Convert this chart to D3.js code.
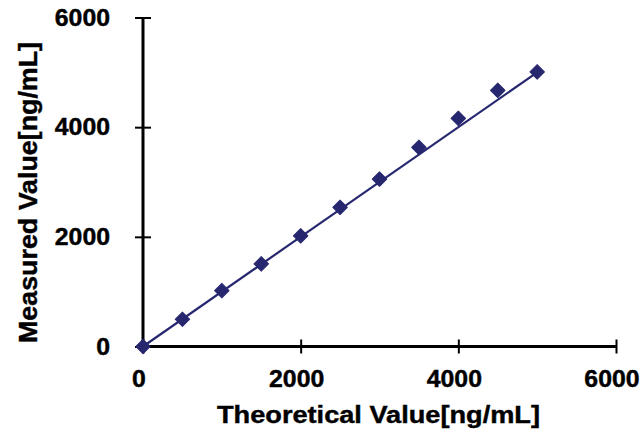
<!DOCTYPE html>
<html>
<head>
<meta charset="utf-8">
<script src="https://cdn.jsdelivr.net/npm/d3@7"></script>
<style>
html,body{margin:0;padding:0;background:#fff;}
svg{display:block;}
text{font-family:"Liberation Sans",Arial,sans-serif;font-weight:bold;fill:#000;}
</style>
</head>
<body>
<svg id="chart" width="644" height="433"></svg>
<script>
const theoretical = [0, 500, 1000, 1500, 2000, 2500, 3000, 3500, 4000, 4500, 5000];
const measured    = [0, 497, 1019, 1507, 2018, 2539, 3054, 3631, 4161, 4672, 5008];
const fitX = [0, 5000];
const fitY = [0, 5000];
const xTicks = [0, 2000, 4000, 6000];
const yTicks = [0, 2000, 4000, 6000];
const xTitle = "Theoretical Value[ng/mL]";
const yTitle = "Measured Value[ng/mL]";

const svg = d3.select("#chart");
const x = d3.scaleLinear().domain([0, 6000]).range([143, 616]);
const y = d3.scaleLinear().domain([0, 6000]).range([346.5, 17.5]);
const color = "#27276F";

// fit line
const line = d3.line().x(d => x(d[0])).y(d => y(d[1]));
svg.append("path")
  .datum(fitX.map((v, i) => [v, fitY[i]]))
  .attr("d", line)
  .attr("fill", "none")
  .attr("stroke", color)
  .attr("stroke-width", 2.2);

// axes
const xAxis = d3.axisBottom(x).tickValues(xTicks).tickSize(7).tickFormat(d3.format("d"));
const gx = svg.append("g").attr("transform", `translate(0,${y(0)})`).call(xAxis);
gx.select(".domain").remove();
gx.selectAll(".tick line").attr("y1", -7).attr("y2", 7).attr("stroke", "#000").attr("stroke-width", 2);
gx.selectAll(".tick text").remove();
svg.append("line").attr("x1", x(0)).attr("x2", x(6000)).attr("y1", y(0)).attr("y2", y(0))
  .attr("stroke", "#000").attr("stroke-width", 3);

const yAxis = d3.axisLeft(y).tickValues(yTicks).tickSize(8).tickFormat(d3.format("d"));
const gy = svg.append("g").attr("transform", `translate(${x(0)},0)`).call(yAxis);
gy.select(".domain").remove();
gy.selectAll(".tick line").attr("x1", -8).attr("x2", 8).attr("stroke", "#000").attr("stroke-width", 2);
gy.selectAll(".tick text").remove();
svg.append("line").attr("x1", x(0)).attr("x2", x(0)).attr("y1", y(0) + 1.5).attr("y2", y(6000))
  .attr("stroke", "#000").attr("stroke-width", 3);

// tick labels
svg.selectAll(".xlab").data(xTicks).enter().append("text")
  .attr("class", "xlab")
  .attr("x", d => x(d) - 4)
  .attr("y", 387)
  .attr("text-anchor", "middle")
  .attr("font-size", 23)
  .attr("stroke", "#000").attr("stroke-width", 0.4)
  .attr("transform", d => `translate(${x(d) - 4},0) scale(1.08,1) translate(${-(x(d) - 4)},0)`)
  .text(d => d);

svg.selectAll(".ylab").data(yTicks).enter().append("text")
  .attr("class", "ylab")
  .attr("x", 110)
  .attr("y", d => y(d) + 8.3)
  .attr("text-anchor", "end")
  .attr("font-size", 23)
  .attr("stroke", "#000").attr("stroke-width", 0.4)
  .attr("transform", `translate(110,0) scale(1.08,1) translate(-110,0)`)
  .text(d => d);

// markers
svg.selectAll(".pt").data(theoretical).enter().append("path")
  .attr("class", "pt")
  .attr("d", d3.symbol().type(d3.symbolSquare).size(105))
  .attr("transform", (d, i) => `translate(${x(d)},${y(measured[i])}) rotate(45)`)
  .attr("fill", color)
  .attr("stroke", color)
  .attr("stroke-width", 1)
  .attr("stroke-linejoin", "round");

// titles
svg.append("text")
  .attr("x", 217)
  .attr("y", 423)
  .attr("font-size", 23)
  .attr("stroke", "#000").attr("stroke-width", 0.4)
  .attr("textLength", 323)
  .attr("lengthAdjust", "spacingAndGlyphs")
  .text(xTitle);

svg.append("text")
  .attr("transform", "translate(37,343) rotate(-90)")
  .attr("x", 0)
  .attr("y", 0)
  .attr("font-size", 26)
  .attr("stroke", "#000").attr("stroke-width", 0.4)
  .attr("textLength", 301)
  .attr("lengthAdjust", "spacingAndGlyphs")
  .text(yTitle);
</script>
</body>
</html>
